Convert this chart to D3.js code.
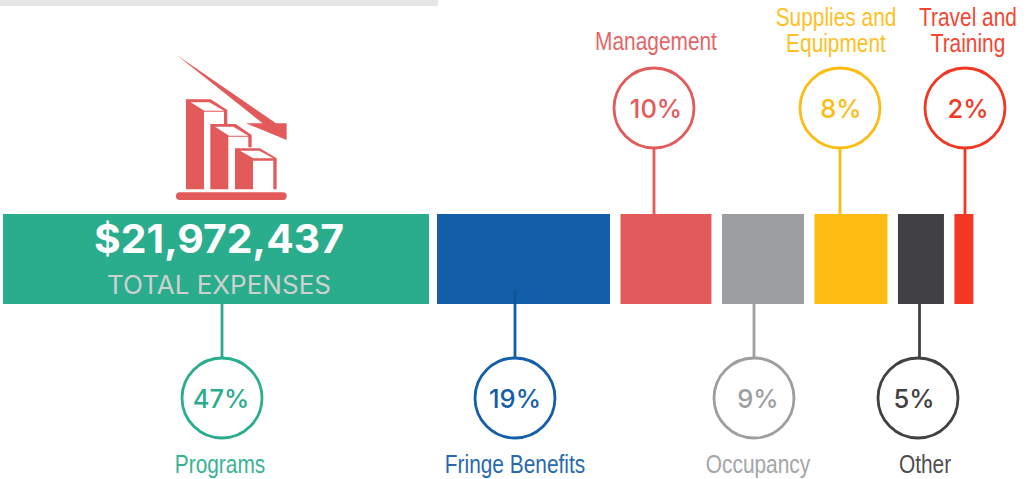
<!DOCTYPE html>
<html>
<head>
<meta charset="utf-8">
<script src="https://cdn.jsdelivr.net/npm/d3@7"></script>
<style>
html, body { margin: 0; padding: 0; background: #fff; overflow: hidden; }
svg { display: block; }
.label { font-family: "Liberation Sans", sans-serif; font-size: 25px; text-anchor: middle; }
.pct { font-family: "Inter", "Lato", sans-serif; font-size: 25.5px; font-weight: 500; text-anchor: middle; }
</style>
</head>
<body>
<svg width="1028" height="479"></svg>
<script>
const categories = ["Programs", "Fringe Benefits", "Management", "Occupancy", "Supplies and Equipment", "Other", "Travel and Training"]
const percents = [47, 19, 10, 9, 8, 5, 2]
// bar widths are a bit off the rounded labels
const shares = [46.97, 19.07, 10.03, 9.04, 8.05, 5.07, 2.09]
const total = "$21,972,437"
const totalLabel = "TOTAL EXPENSES"

const colors = ["#2aad8d", "#135ea9", "#e25a5a", "#9d9ea1", "#fdbc11", "#414042", "#f23722"]

// layout of the callouts, not data
const callouts = [
	{cx: 222, up: false, labelX: 220, pctX: 221},
	{cx: 515, up: false, labelX: 515, pctX: 515},
	{cx: 654, up: true, labelX: 656, pctX: 656, lines: ["Management"], labelY: [50]},
	{cx: 754, up: false, labelX: 758, pctX: 758},
	{cx: 840, up: true, labelX: 836, pctX: 841, lines: ["Supplies and", "Equipment"], labelY: [26, 52]},
	{cx: 918, stemX: 919.5, up: false, labelX: 925, pctX: 914},
	{cx: 965, up: true, labelX: 968, pctX: 968, lines: ["Travel and", "Training"], labelY: [26, 52]}
]

const svg = d3.select("svg")

const barTop = 214, barBottom = 304, circleR = 40
const circleUpY = 108, circleDownY = 398

const widthScale = d3.scaleLinear().domain([0, 100]).range([0, 907])

// walk along the strip, gaps are ~10px (first one tighter)
let cursor = 3
const bars = percents.map((p, i) => {
	const b = {i: i, x: cursor, w: widthScale(shares[i])}
	cursor += b.w + (i == 0 ? 8 : 10.5)
	return b
})

//top grey rule
svg.append("rect")
	.attr("x", 0).attr("y", 0)
	.attr("width", 438).attr("height", 6)
	.attr("fill", "#e6e6e6")

//stems go in before the bars and circles
svg.selectAll("line.stem")
	.data(callouts)
	.enter()
	.append("line")
	.attr("class", "stem")
	.attr("x1", d => d.stemX || d.cx).attr("x2", d => d.stemX || d.cx)
	.attr("y1", d => d.up ? circleUpY + circleR : circleDownY - circleR)
	.attr("y2", d => d.up ? barTop : barBottom)
	.attr("stroke", (d, i) => colors[i])
	.attr("stroke-width", 2.8)

svg.selectAll("rect.bar")
	.data(bars)
	.enter()
	.append("rect")
	.attr("class", "bar")
	.attr("x", d => d.x)
	.attr("y", barTop)
	.attr("width", d => d.w)
	.attr("height", barBottom - barTop)
	.attr("fill", d => colors[d.i])

// fringe stem pokes up a little into its bar
svg.append("line")
	.attr("x1", 515).attr("x2", 515)
	.attr("y1", 290).attr("y2", barBottom)
	.attr("stroke", "#0f5596").attr("stroke-width", 2.8)

//circles
const groups = svg.selectAll("g.callout")
	.data(callouts)
	.enter()
	.append("g")
	.attr("class", "callout")

groups.append("circle")
	.attr("cx", d => d.cx)
	.attr("cy", d => d.up ? circleUpY : circleDownY)
	.attr("r", circleR)
	.attr("fill", "#fff")
	.attr("stroke", (d, i) => colors[i])
	.attr("stroke-width", 2.8)

groups.append("text")
	.attr("class", "pct")
	.attr("x", d => d.pctX)
	.attr("y", d => (d.up ? circleUpY : circleDownY) + 9.5)
	.attr("fill", (d, i) => colors[i])
	.text((d, i) => percents[i] + "%")

//category labels, squeezed since no narrow font is around
groups.each(function(d, i) {
	const lines = d.lines || [categories[i]]
	const ys = d.labelY || [473]
	d3.select(this).selectAll("text.label")
		.data(lines)
		.enter()
		.append("text")
		.attr("class", "label")
		.attr("x", d.labelX)
		.attr("y", (l, k) => ys[k])
		.attr("fill", colors[i])
		.attr("opacity", 0.92)
		.text(l => l)
		.attr("lengthAdjust", "spacingAndGlyphs")
		.attr("textLength", function() { return this.getComputedTextLength() * 0.835 })
})

//total on the first bar
svg.append("text")
	.attr("x", 219).attr("y", 253)
	.attr("text-anchor", "middle")
	.attr("font-family", "Inter, Lato, sans-serif")
	.attr("font-weight", 700)
	.attr("font-size", 39)
	.attr("textLength", 250)
	.attr("lengthAdjust", "spacingAndGlyphs")
	.attr("fill", "#fff")
	.text(total)

svg.append("text")
	.attr("x", 219).attr("y", 294)
	.attr("text-anchor", "middle")
	.attr("font-family", "Inter, Lato, sans-serif")
	.attr("font-weight", 400)
	.attr("font-size", 25)
	.attr("textLength", 224)
	.attr("lengthAdjust", "spacingAndGlyphs")
	.attr("fill", "#cfd0d0")
	.text(totalLabel)

//falling bars icon, traced in 3x coords
const iconRed = "#e25a5a"
const icon = svg.append("g").attr("transform", "translate(150,40) scale(0.3333)")

const iconRed_shapes = [
	"M80,45 L378,250 L410,250 L410,300 L288,250 L338,250 Z",
	"M108,178 L182,178 L232,210 L232,252 L222,252 L222,215 L162,215 L162,448 L108,448 Z",
	"M181,252 L257,252 L305,285 L305,322 L295,322 L295,290 L235,290 L235,448 L181,448 Z",
	"M255,325 L330,325 L380,355 L380,448 L370,448 L370,362 L309,362 L309,448 L255,448 Z"
]
const iconWhite_shapes = [
	"M122,187 L178,187 L222,212 L163,212 Z",
	"M195,260 L250,260 L295,287 L237,287 Z",
	"M270,332 L328,332 L370,355 L310,355 Z"
]

icon.selectAll("path.red").data(iconRed_shapes).enter().append("path")
	.attr("class", "red").attr("d", d => d).attr("fill", iconRed)
icon.selectAll("path.white").data(iconWhite_shapes).enter().append("path")
	.attr("class", "white").attr("d", d => d).attr("fill", "#fff")

icon.append("rect")
	.attr("x", 78).attr("y", 457)
	.attr("width", 332).attr("height", 23)
	.attr("rx", 11).attr("fill", iconRed)
</script>
</body>
</html>
